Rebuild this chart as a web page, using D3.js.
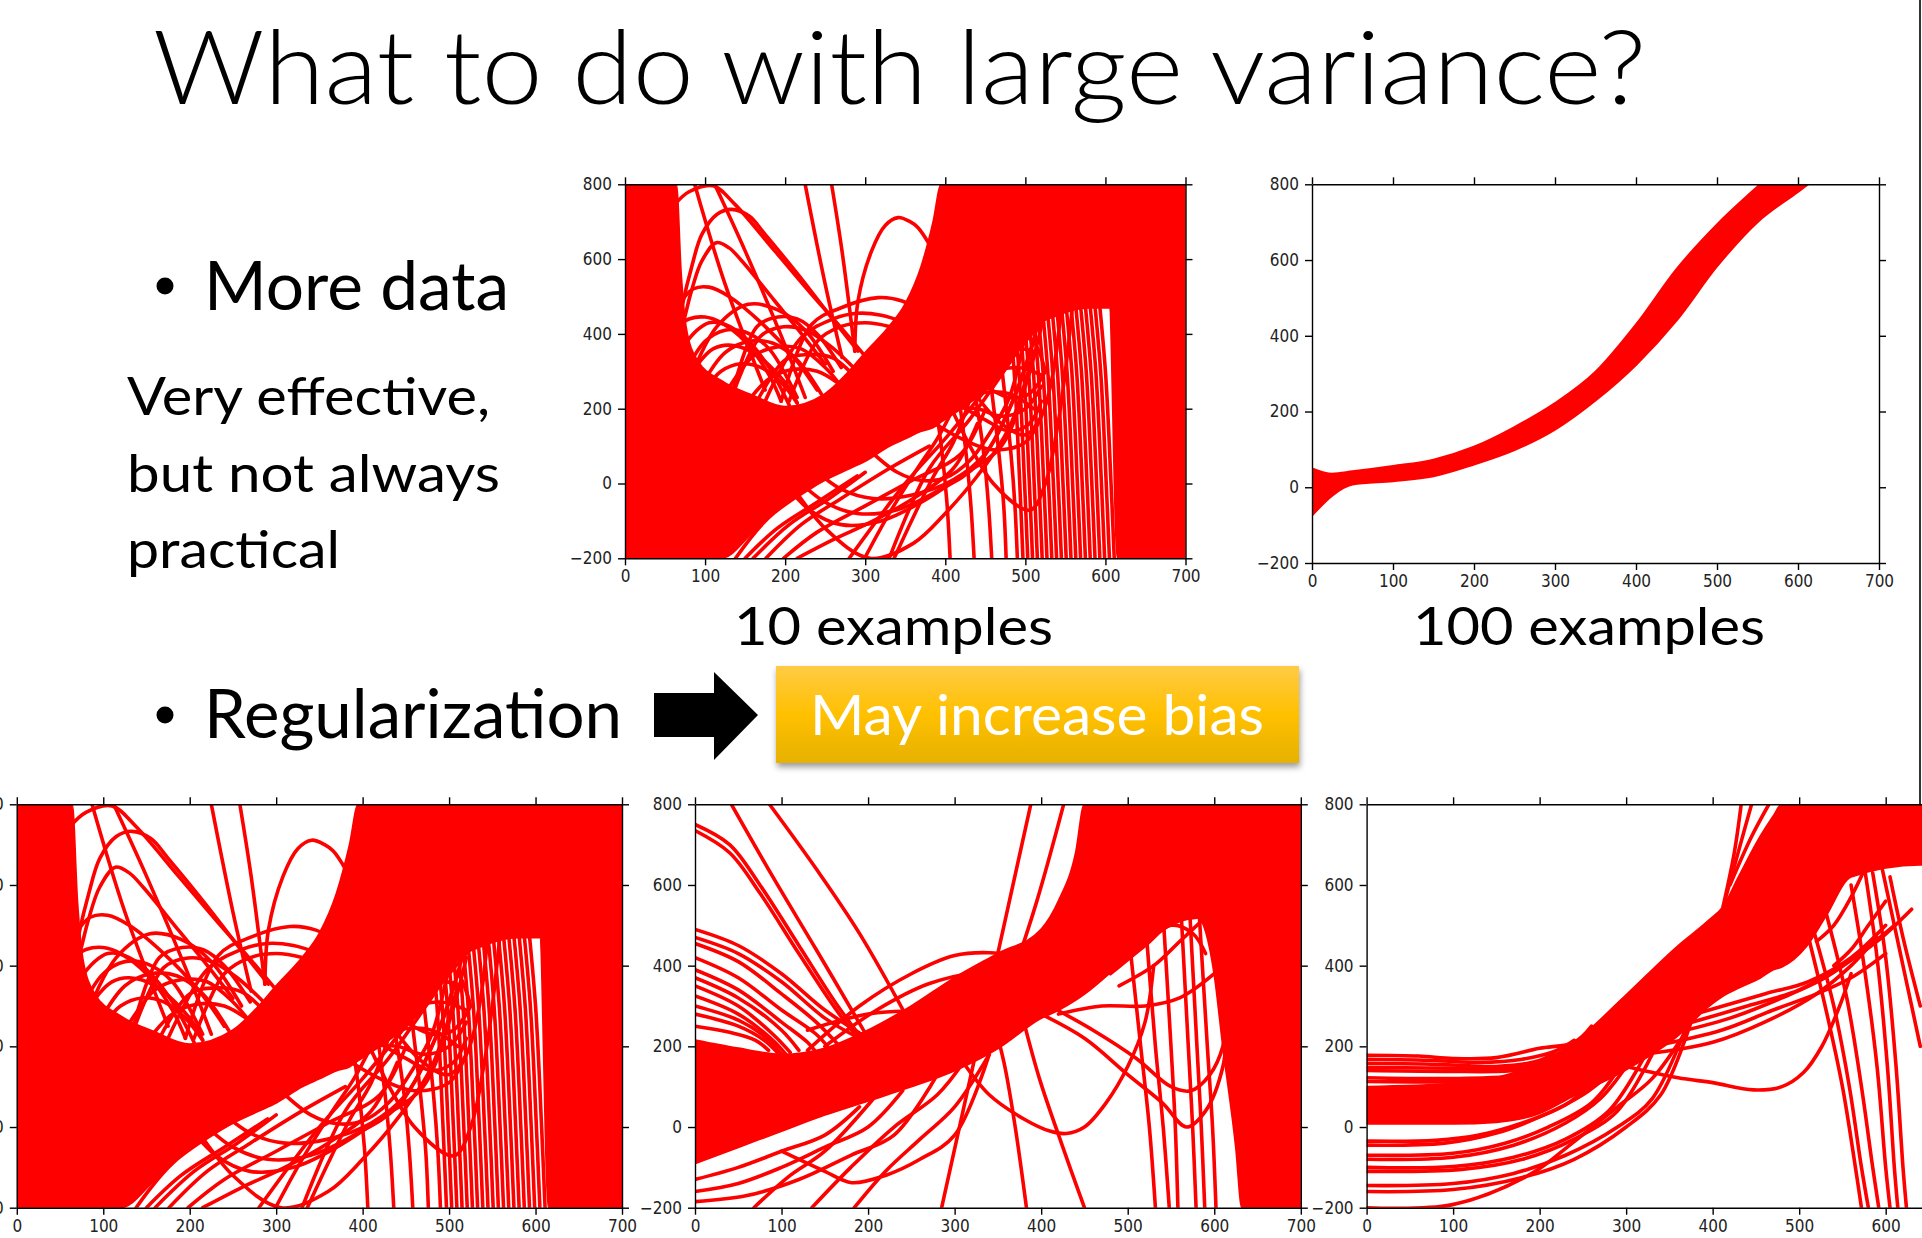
<!DOCTYPE html>
<html>
<head>
<meta charset="utf-8">
<script src="https://cdn.jsdelivr.net/npm/d3@7"></script>
<style>
html, body { margin: 0; padding: 0; background: #fff; overflow: hidden; }
svg { display: block; }
.axis text { font-family: "DejaVu Sans Condensed", "DejaVu Sans", sans-serif; font-size: 17px; fill: #222; }
.axis path, .axis line { stroke: #000; stroke-width: 1.4; }
</style>
</head>
<body>
<script>
// ---- tick values shared by every panel ----
const xTicks = [0, 100, 200, 300, 400, 500, 600, 700];
const yTicks = [-200, 0, 200, 400, 600, 800];

// ---- 10 examples (no regularization): dense band + visible strands ----
const tenBandX  = [0, 64, 70, 76, 90, 120, 160, 200, 250, 280, 300, 330, 350, 370, 385, 395, 450, 480, 500, 540, 580, 605, 615, 700];
const tenBandHi = [800, 800, 560, 420, 330, 275, 235, 205, 240, 300, 350, 420, 480, 580, 700, 800, 800, 800, 800, 800, 800, 800, 800, 800];
const tenBandLo = [-200, -200, -200, -200, -200, -200, -130, -50, 10, 40, 60, 100, 120, 140, 150, 165, 250, 320, 400, 450, 470, 470, -200, -200];
const tenCurves = [
  // big arches and straight strands in the upper white region
  [[62, 746], [80, 780], [110, 796], [137, 747], [187, 622], [233, 506], [266, 426], [300, 340]],
  [[64, 380], [72, 480], [83, 577], [96, 666], [115, 720], [133, 733], [155, 715], [175, 666], [216, 559], [258, 443], [291, 354]],
  [[66, 380], [74, 440], [83, 515], [96, 595], [114, 644], [130, 630], [146, 595], [187, 488], [221, 399], [250, 319]],
  [[287, 354], [291, 488], [308, 622], [325, 690], [341, 711], [356, 700], [366, 684], [380, 640]],
  [[87, 800], [125, 533], [175, 250]],
  [[112, 800], [150, 622], [196, 390], [225, 230]],
  [[225, 800], [250, 533], [271, 337]],
  [[258, 800], [271, 622], [287, 354]],
  // mesh of small arches
  [[85, 300], [115, 420], [154, 479], [190, 465], [225, 410], [260, 300]],
  [[135, 250], [165, 420], [191, 445], [215, 440], [240, 400], [270, 310]],
  [[195, 220], [233, 425], [270, 470], [316, 497], [346, 488], [370, 460]],
  [[70, 360], [90, 410], [105, 430], [125, 425], [150, 390], [180, 310], [205, 210]],
  [[76, 300], [100, 380], [125, 410], [150, 405], [180, 360], [215, 230]],
  [[95, 260], [125, 350], [155, 380], [185, 375], [215, 330], [245, 240]],
  [[125, 240], [160, 340], [190, 365], [220, 360], [250, 310], [270, 260]],
  [[165, 220], [200, 330], [230, 345], [260, 335], [285, 290]],
  [[66, 420], [80, 440], [100, 445], [120, 430], [150, 380], [180, 290], [195, 220]],
  [[80, 280], [95, 330], [110, 360], [130, 370], [160, 350], [200, 270], [215, 215]],
  [[205, 220], [240, 380], [270, 420], [300, 430], [330, 420], [355, 400]],
  [[175, 220], [220, 390], [260, 440], [290, 455], [320, 450], [350, 430]],
  [[68, 480], [85, 520], [105, 525], [130, 500], [170, 430], [210, 340], [240, 250]],
  [[135, 240], [170, 395], [198, 419], [225, 410], [255, 370], [290, 300]],
  [[100, 250], [120, 300], [145, 320], [170, 310], [195, 270], [215, 215]],
  [[150, 210], [180, 280], [210, 305], [240, 300], [265, 270]],
  // lower white region
  [[122, -200], [165, -70], [220, 20], [275, 90]],
  [[138, -200], [180, -90], [240, 0], [300, 70]],
  [[150, -200], [190, -120], [240, -50], [290, 20]],
  [[160, -200], [205, -110], [255, -40], [300, 30]],
  [[176, -200], [220, -110], [270, -40], [330, 40], [380, 100]],
  [[198, -200], [240, -130], [300, -60], [360, 10], [420, 80], [450, 200]],
  [[215, -200], [260, -150], [310, -100], [360, -40], [410, 40], [440, 160]],
  [[298, -205], [330, -80], [364, 36], [390, 120], [410, 200]],
  [[335, -205], [360, -90], [385, 18], [410, 110], [430, 220]],
  [[200, 0], [230, -70], [270, -110], [320, -100], [370, -50], [420, 20], [470, 100], [500, 260], [520, 420]],
  [[210, 20], [250, -50], [290, -80], [340, -70], [390, -20], [440, 50], [480, 200], [510, 380]],
  [[230, 50], [270, -15], [310, -40], [360, -30], [410, 10], [450, 80], [490, 250], [515, 420]],
  [[200, 20], [250, -120], [306, -200], [360, -160], [400, -80], [440, 20], [480, 150], [510, 350]],
  [[300, 100], [340, 30], [371, 8], [400, 15], [430, 60], [460, 150], [480, 230], [500, 400]],
  [[410, 190], [460, 0], [506, -71], [525, 0], [540, 150], [550, 300], [560, 500]],
  [[430, 260], [470, 160], [500, 130], [520, 180], [535, 300], [545, 480]],
  [[360, 150], [400, 200], [440, 240], [480, 240], [510, 200]],
  [[370, 160], [410, 230], [450, 290], [490, 310], [520, 290]],
  [[390, 180], [430, 260], [460, 330], [490, 360], [515, 350]],
  [[400, 200], [440, 200], [470, 180], [500, 200], [520, 260]],
  [[410, 220], [450, 170], [480, 140], [505, 160], [520, 220]],
  [[380, 170], [420, 120], [460, 90], [500, 110], [520, 180]],
  [[420, 300], [450, 260], [480, 230], [505, 240], [525, 300]],
  [[385, 250], [395, 100], [402, -50], [406, -200]],
  [[415, 260], [426, 80], [432, -60], [436, -200]],
  [[435, 270], [448, 80], [454, -60], [458, -200]],
  [[455, 300], [467, 80], [473, -60], [476, -200]],
  [[470, 320], [482, 80], [487, -60], [490, -200]],
  [[280, -200], [350, 0], [400, 120], [450, 250], [500, 380], [540, 480]],
  [[330, -200], [380, 40], [430, 170], [470, 290], [510, 420]],
  [[440, 250], [465, 350], [490, 400], [510, 380], [525, 300]],
  // steep strands falling on the right
  [[475, 560], [486, 300], [493, 0], [497, -200]],
  [[481, 560], [492, 300], [499, 0], [503, -200]],
  [[487, 560], [498, 300], [505, 0], [509, -200]],
  [[493, 560], [504, 300], [511, 0], [515, -200]],
  [[499, 560], [510, 300], [517, 0], [521, -200]],
  [[505, 560], [516, 300], [523, 0], [527, -200]],
  [[511, 560], [522, 300], [529, 0], [533, -200]],
  [[517, 560], [528, 300], [535, 0], [539, -200]],
  [[523, 560], [534, 300], [541, 0], [545, -200]],
  [[529, 560], [540, 300], [547, 0], [551, -200]],
  [[535, 560], [546, 300], [553, 0], [557, -200]],
  [[541, 560], [552, 300], [559, 0], [563, -200]],
  [[547, 560], [558, 300], [565, 0], [569, -200]],
  [[553, 560], [564, 300], [571, 0], [575, -200]],
  [[559, 560], [570, 300], [577, 0], [581, -200]],
  [[565, 560], [576, 300], [583, 0], [587, -200]],
  [[571, 560], [582, 300], [589, 0], [593, -200]],
  [[577, 560], [588, 300], [595, 0], [599, -200]],
  [[583, 560], [594, 300], [601, 0], [605, -200]],
  [[589, 560], [600, 300], [607, 0], [611, -200]]
];

// ---- 100 examples: one narrow band ----
const hundredX  = [0, 25, 50, 100, 150, 200, 250, 300, 350, 400, 450, 500, 550, 600, 650];
const hundredHi = [50, 36, 42, 56, 73, 107, 159, 222, 305, 430, 576, 694, 794, 890, 980];
const hundredLo = [-75, -22, 7, 16, 29, 60, 98, 152, 229, 323, 440, 583, 700, 780, 860];

// ---- moderate regularization ----
const midBandX  = [0, 50, 100, 150, 200, 250, 300, 350, 400, 420, 440, 450, 500, 550, 580, 600, 610, 625, 632, 700];
const midBandHi = [215, 195, 180, 195, 240, 300, 370, 430, 490, 560, 680, 800, 800, 800, 800, 800, 800, 800, 800, 800];
const midBandLo = [-90, -50, -10, 30, 65, 100, 140, 195, 270, 290, 315, 330, 420, 500, 520, 380, 200, -50, -200, -200];
const midCurves = [
  [[0, 750], [40, 700], [75, 600], [120, 450], [165, 300], [200, 200]],
  [[0, 735], [40, 680], [75, 580], [120, 430], [165, 285], [200, 190]],
  [[42, 800], [90, 620], [140, 440], [192, 250], [205, 200]],
  [[86, 800], [140, 640], [190, 480], [243, 280]],
  [[0, 490], [50, 450], [100, 380], [150, 290], [200, 220]],
  [[0, 470], [50, 430], [100, 360], [150, 270], [190, 220]],
  [[0, 455], [50, 410], [100, 330], [140, 260], [165, 205]],
  [[0, 420], [50, 370], [100, 290], [140, 230], [155, 195]],
  [[0, 390], [50, 340], [100, 260], [130, 210], [140, 185]],
  [[0, 370], [50, 320], [100, 240], [120, 190]],
  [[0, 350], [50, 300], [90, 230], [110, 185]],
  [[0, 325], [50, 280], [90, 215], [105, 180]],
  [[0, 300], [50, 265], [80, 225], [100, 180]],
  [[0, 280], [50, 250], [80, 215], [95, 185]],
  [[0, 250], [40, 235], [70, 215], [85, 190]],
  [[0, -130], [50, -100], [100, -60], [150, -20], [190, 50]],
  [[0, -160], [50, -140], [100, -100], [150, -50], [200, 0], [240, 90]],
  [[0, -185], [60, -170], [120, -130], [180, -70], [230, -20], [280, 130]],
  [[100, -60], [150, -110], [181, -138], [220, -120], [260, -80], [300, -20], [340, 180]],
  [[135, -200], [180, -100], [230, 0], [280, 80], [310, 160]],
  [[184, -200], [220, -110], [260, -30], [300, 50], [340, 180]],
  [[68, -200], [110, -120], [150, -60], [210, 80]],
  [[388, 800], [285, -200]],
  [[426, 800], [395, 560], [360, 330]],
  [[130, 190], [190, 300], [250, 380], [300, 425], [340, 432], [380, 420], [420, 400]],
  [[150, 200], [210, 290], [270, 355], [330, 385], [380, 390]],
  [[130, 240], [200, 280], [260, 285], [290, 270]],
  [[310, 160], [340, 80], [380, 20], [410, -10], [429, -16], [450, 0], [475, 60], [500, 150], [520, 260], [530, 400]],
  [[340, 300], [357, 160], [370, 0], [383, -200]],
  [[380, 260], [398, 120], [425, -50], [450, -200]],
  [[400, 280], [450, 220], [500, 130], [540, 60], [568, 0], [590, 40], [610, 150], [615, 260]],
  [[410, 300], [460, 240], [510, 170], [550, 100], [573, 90], [595, 130], [610, 200], [615, 300]],
  [[500, 500], [515, 200], [525, 0], [532, -200]],
  [[520, 520], [532, 200], [541, 0], [548, -200]],
  [[540, 560], [550, 200], [555, 0], [558, -200]],
  [[560, 600], [570, 200], [575, 0], [579, -200]],
  [[570, 600], [580, 200], [585, 0], [589, -200]],
  [[580, 620], [592, 200], [598, 0], [602, -200]],
  [[420, 280], [470, 300], [520, 300], [560, 320], [600, 380]],
  [[440, 480], [500, 500], [540, 510], [580, 520]],
  [[480, 380], [520, 450], [550, 500], [575, 480], [590, 430]],
  [[490, 350], [530, 400], [560, 460], [590, 520]]
];

// ---- strong regularization ----
const strongBandX  = [0, 100, 150, 200, 237, 298, 359, 396, 412, 430, 455, 470, 480, 508, 530, 560, 640, 700];
const strongBandHi = [100, 108, 122, 160, 205, 323, 447, 513, 546, 620, 720, 770, 800, 800, 800, 800, 800, 800];
const strongBandLo = [8, 8, 12, 34, 75, 140, 225, 300, 325, 345, 370, 390, 397, 447, 520, 620, 650, 650];
const strongCurves = [
  [[0, 178], [60, 176], [100, 170], [150, 172], [200, 195], [240, 210], [260, 250]],
  [[0, 168], [80, 165], [130, 160], [180, 168], [220, 190], [240, 215]],
  [[0, 158], [90, 155], [150, 150], [200, 165], [220, 190]],
  [[0, 148], [100, 146], [180, 148], [200, 160]],
  [[0, 140], [90, 138], [170, 140], [190, 150]],
  [[0, 122], [100, 120], [180, 125]],
  [[0, 113], [100, 112], [190, 116]],
  [[0, -35], [80, -33], [130, -20], [180, 10], [230, 55], [260, 110]],
  [[0, -45], [90, -40], [150, -15], [200, 25], [250, 80], [280, 130]],
  [[0, -70], [100, -65], [160, -40], [210, 0], [260, 60], [290, 140]],
  [[0, -80], [100, -75], [170, -45], [230, 10], [270, 70], [300, 150]],
  [[0, -100], [100, -98], [170, -75], [230, -30], [280, 40], [320, 170]],
  [[0, -110], [110, -105], [180, -80], [240, -30], [290, 40], [330, 180]],
  [[0, -145], [100, -140], [170, -115], [230, -70], [290, 0], [330, 70], [370, 250]],
  [[0, -160], [100, -155], [180, -125], [240, -80], [300, 0], [340, 80], [375, 260]],
  [[0, -200], [98, -193], [191, -115], [237, -41], [290, 50], [330, 120], [370, 240]],
  [[300, 150], [360, 122], [400, 110], [447, 92], [480, 100], [505, 135], [526, 199], [545, 290], [560, 380]],
  [[320, 180], [400, 210], [460, 260], [520, 330], [560, 400], [590, 470]],
  [[330, 200], [410, 240], [470, 290], [520, 330], [560, 370], [600, 430]],
  [[340, 225], [420, 270], [480, 320], [530, 370], [570, 430], [610, 500]],
  [[360, 250], [440, 300], [500, 340], [550, 400], [590, 460], [630, 540]],
  [[380, 280], [460, 330], [510, 360], [560, 420], [600, 500]],
  [[505, 520], [530, 300], [550, 100], [565, -100], [572, -200]],
  [[515, 500], [540, 300], [558, 100], [572, -100], [580, -200]],
  [[530, 540], [555, 320], [572, 100], [585, -100], [592, -200]],
  [[560, 600], [575, 400], [590, 150], [600, -100], [605, -200]],
  [[575, 650], [590, 420], [602, 150], [610, -100], [614, -200]],
  [[585, 630], [600, 420], [612, 150], [620, -100], [624, -200]],
  [[578, 650], [560, 570], [540, 500], [520, 460]],
  [[600, 560], [580, 500], [560, 440], [540, 400]],
  [[595, 650], [610, 500], [625, 350], [640, 200]],
  [[605, 620], [620, 470], [640, 300]],
  [[412, 546], [425, 680], [433, 800]],
  [[414, 560], [432, 700], [445, 800]],
  [[420, 600], [445, 720], [465, 800]]
];

const width = 1922, height = 1238;
const red = "#ff0000";

const svg = d3.select("body").append("svg")
  .attr("width", width).attr("height", height)
  .attr("viewBox", `0 0 ${width} ${height}`);
const defs = svg.append("defs");

function band(xs, hi, lo) {
  return xs.map((x, i) => ({x: x, hi: hi[i], lo: lo[i]}));
}

function drawPanel(name, frame, bandData, curves) {
  const x = d3.scaleLinear().domain([0, 700]).range([frame.left, frame.right]);
  const y = d3.scaleLinear().domain([-200, 800]).range([frame.bottom, frame.top]);

  defs.append("clipPath").attr("id", "clip-" + name)
    .append("rect")
    .attr("x", frame.left).attr("y", frame.top)
    .attr("width", frame.right - frame.left).attr("height", frame.bottom - frame.top);

  const g = svg.append("g").attr("clip-path", `url(#clip-${name})`);

  const area = d3.area()
    .x(d => x(d.x)).y0(d => y(d.lo)).y1(d => y(d.hi))
    .curve(d3.curveMonotoneX);
  g.append("path").datum(bandData)
    .attr("d", area)
    .attr("fill", red).attr("stroke", red).attr("stroke-width", 2);

  const line = d3.line()
    .x(d => x(d[0])).y(d => y(d[1]))
    .curve(d3.curveCatmullRom.alpha(0.5));
  g.selectAll("path.curve").data(curves).join("path")
    .attr("class", "curve")
    .attr("d", line)
    .attr("fill", "none").attr("stroke", red)
    .attr("stroke-width", 3.6).attr("stroke-linecap", "round");

  // axes: ticks outward on all four sides, labels on left and bottom
  const fmt = d3.format("d");
  const blank = () => "";
  svg.append("g").attr("class", "axis").attr("transform", `translate(0,${frame.bottom})`)
    .call(d3.axisBottom(x).tickValues(xTicks).tickSize(7).tickSizeOuter(0).tickPadding(5).tickFormat(fmt));
  svg.append("g").attr("class", "axis").attr("transform", `translate(0,${frame.top})`)
    .call(d3.axisTop(x).tickValues(xTicks).tickSize(7).tickSizeOuter(0).tickFormat(blank));
  svg.append("g").attr("class", "axis").attr("transform", `translate(${frame.left},0)`)
    .call(d3.axisLeft(y).tickValues(yTicks).tickSize(7).tickSizeOuter(0).tickPadding(6).tickFormat(fmt));
  svg.append("g").attr("class", "axis").attr("transform", `translate(${frame.right},0)`)
    .call(d3.axisRight(y).tickValues(yTicks).tickSize(7).tickSizeOuter(0).tickFormat(blank));
}

drawPanel("ten", {left: 625, right: 1185.5, top: 184.3, bottom: 558.3},
  band(tenBandX, tenBandHi, tenBandLo), tenCurves);
drawPanel("hundred", {left: 1312, right: 1879, top: 184.3, bottom: 563},
  band(hundredX, hundredHi, hundredLo), []);
drawPanel("regNone", {left: 16.8, right: 622, top: 804.3, bottom: 1207.7},
  band(tenBandX, tenBandHi, tenBandLo), tenCurves);
drawPanel("regMid", {left: 695, right: 1300.8, top: 804.3, bottom: 1207.7},
  band(midBandX, midBandHi, midBandLo), midCurves);
drawPanel("regStrong", {left: 1366.6, right: 1972.2, top: 804.3, bottom: 1207.7},
  band(strongBandX, strongBandHi, strongBandLo), strongCurves);

// slide edge line
svg.append("line")
  .attr("x1", 1920).attr("x2", 1920).attr("y1", 0).attr("y2", 804)
  .attr("stroke", "#333").attr("stroke-width", 2);

// ---- slide text ----
function label(text, x, y, size, len, opts = {}) {
  return svg.append("text")
    .attr("x", x).attr("y", y)
    .attr("font-family", "Lato, 'Open Sans', sans-serif")
    .attr("font-size", size)
    .attr("font-weight", opts.weight || 400)
    .attr("fill", opts.fill || "#000")
    .attr("textLength", len)
    .attr("lengthAdjust", "spacingAndGlyphs")
    .text(text);
}

label("What to do with large variance?", 153, 104, 103, 1493, {weight: 300});

svg.append("circle").attr("cx", 165).attr("cy", 286).attr("r", 8.5).attr("fill", "#000");
label("More data", 204, 310, 67, 305);
label("Very effective,", 127, 415, 53, 363);
label("but not always", 127, 492, 53, 373);
label("practical", 127, 568, 53, 213);

label("10 examples", 734, 645, 53, 319);
label("100 examples", 1413, 645, 53, 352);

svg.append("circle").attr("cx", 165).attr("cy", 715).attr("r", 8.5).attr("fill", "#000");
label("Regularization", 204, 738, 67, 418);

// arrow
const arrow = d3.path();
arrow.moveTo(654, 693); arrow.lineTo(714, 693); arrow.lineTo(714, 672);
arrow.lineTo(758, 715); arrow.lineTo(714, 760); arrow.lineTo(714, 737);
arrow.lineTo(654, 737); arrow.closePath();
svg.append("path").attr("d", arrow.toString()).attr("fill", "#000");

// orange box
const grad = defs.append("linearGradient").attr("id", "boxGrad")
  .attr("x1", 0).attr("y1", 0).attr("x2", 0).attr("y2", 1);
grad.append("stop").attr("offset", "0%").attr("stop-color", "#ffcb45");
grad.append("stop").attr("offset", "50%").attr("stop-color", "#ffc000");
grad.append("stop").attr("offset", "100%").attr("stop-color", "#e6b100");
const shadow = defs.append("filter").attr("id", "boxShadow")
  .attr("x", "-10%").attr("y", "-10%").attr("width", "120%").attr("height", "140%");
shadow.append("feDropShadow").attr("dx", 1).attr("dy", 4).attr("stdDeviation", 3)
  .attr("flood-color", "#000").attr("flood-opacity", 0.4);
svg.append("rect").attr("x", 776).attr("y", 666).attr("width", 523).attr("height", 97)
  .attr("fill", "url(#boxGrad)").attr("filter", "url(#boxShadow)");
label("May increase bias", 810, 735, 56, 454, {fill: "#fff"});
</script>
</body>
</html>
